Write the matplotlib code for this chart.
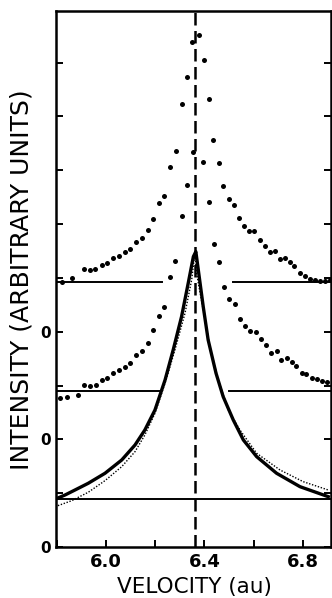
import matplotlib
matplotlib.use("Agg")
import matplotlib.pyplot as plt
import numpy as np

# ---------------- data ----------------
# upper data set (offset zero at y = 4)
top_v = [5.820, 5.861, 5.912, 5.935, 5.955, 5.983, 6.005, 6.030, 6.053, 6.077,
         6.099, 6.121, 6.145, 6.169, 6.191, 6.214, 6.237, 6.261, 6.283, 6.307,
         6.330, 6.350, 6.379, 6.398, 6.419, 6.435, 6.458, 6.476, 6.499, 6.521,
         6.541, 6.562, 6.582, 6.602, 6.625, 6.646, 6.666, 6.686, 6.707, 6.727,
         6.747, 6.765, 6.788, 6.808, 6.828, 6.849, 6.869, 6.889, 6.910]
top_i = [4.931, 5.006, 5.162, 5.149, 5.173, 5.242, 5.284, 5.366, 5.409, 5.478,
         5.539, 5.675, 5.749, 5.892, 6.097, 6.388, 6.530, 7.069, 7.355, 8.234,
         8.742, 9.377, 9.517, 9.058, 8.331, 7.556, 7.132, 6.710, 6.474, 6.357,
         6.110, 5.967, 5.879, 5.874, 5.706, 5.595, 5.489, 5.496, 5.348, 5.377,
         5.292, 5.223, 5.087, 5.043, 4.987, 4.963, 4.950, 4.950, 4.963]

# middle data set (offset zero at y = 2)
mid_v = [5.813, 5.840, 5.885, 5.912, 5.935, 5.958, 5.983, 6.005, 6.030, 6.053,
         6.077, 6.099, 6.121, 6.145, 6.169, 6.191, 6.214, 6.237, 6.261, 6.282,
         6.307, 6.328, 6.353, 6.395, 6.419, 6.440, 6.459, 6.480, 6.501, 6.524,
         6.544, 6.564, 6.585, 6.609, 6.629, 6.650, 6.670, 6.693, 6.709, 6.734,
         6.754, 6.772, 6.795, 6.812, 6.835, 6.856, 6.876, 6.896]
mid_i = [2.764, 2.794, 2.825, 3.011, 2.998, 3.011, 3.104, 3.147, 3.240, 3.290,
         3.351, 3.426, 3.569, 3.649, 3.786, 4.033, 4.299, 4.467, 5.019, 5.316,
         6.152, 6.729, 7.348, 7.162, 6.418, 5.628, 5.294, 4.833, 4.613, 4.511,
         4.232, 4.108, 4.015, 4.002, 3.861, 3.755, 3.611, 3.643, 3.476, 3.507,
         3.444, 3.370, 3.229, 3.210, 3.147, 3.117, 3.086, 3.072]

# lower panel: solid theory curve
sol_v = [5.793, 5.834, 5.874, 5.928, 5.996, 6.064, 6.118, 6.158, 6.199, 6.240,
         6.273, 6.307, 6.334, 6.355, 6.365, 6.395, 6.415, 6.447, 6.476, 6.517,
         6.558, 6.612, 6.693, 6.788, 6.903]
sol_i = [0.887, 0.967, 1.059, 1.184, 1.370, 1.617, 1.896, 2.175, 2.546, 3.104,
         3.662, 4.281, 4.901, 5.396, 5.489, 4.467, 3.848, 3.229, 2.794, 2.361,
         1.989, 1.679, 1.370, 1.121, 0.935]

# lower panel: dotted curve
dot_v = [5.793, 5.861, 5.928, 5.996, 6.064, 6.118, 6.158, 6.199, 6.240, 6.280,
         6.321, 6.348, 6.361, 6.368, 6.395, 6.422, 6.456, 6.497, 6.544, 6.612,
         6.707, 6.801, 6.903]
dot_i = [0.749, 0.861, 1.017, 1.233, 1.493, 1.772, 2.082, 2.485, 3.043, 3.662,
         4.344, 4.963, 5.459, 5.087, 4.405, 3.723, 3.104, 2.546, 2.175, 1.742,
         1.431, 1.214, 1.059]

# horizontal background lines: level, and gap (start, end) or None
base_levels = [0.89, 2.89, 4.93]
base_gaps = [None, (6.214, 6.501), (6.226, 6.515)]

peak_v = 6.36
x_ticks = [5.8, 6.0, 6.2, 6.4, 6.6, 6.8]
x_labels = ["", "6.0", "", "6.4", "", "6.8"]
y_ticks = list(range(0, 10))
y_labels = ["0", "", "0", "", "0", "", "", "", "", ""]
xlim = (5.797, 6.914)
ylim = (0, 9.96)

# ---------------- figure ----------------
fig = plt.figure(figsize=(3.32, 5.98), dpi=100)
ax = fig.add_axes([56 / 332, 51 / 598, 275 / 332, 536 / 598])
ax.set_xlim(*xlim)
ax.set_ylim(*ylim)

ink = "black"
for lev, gap in zip(base_levels, base_gaps):
    if gap is None:
        ax.plot(xlim, [lev, lev], color=ink, lw=1.4, solid_capstyle="butt")
    else:
        ax.plot([xlim[0], gap[0]], [lev, lev], color=ink, lw=1.4)
        ax.plot([gap[1], xlim[1]], [lev, lev], color=ink, lw=1.4)

ax.axvline(peak_v, color=ink, lw=1.8, dashes=(5, 2.2))

ax.plot(dot_v, dot_i, color=ink, lw=1.0, ls=(0, (1, 1.2)))
ax.plot(sol_v, sol_i, color=ink, lw=2.4, solid_joinstyle="round")

ax.plot(top_v, top_i, ls="none", marker="o", ms=3.6, mfc=ink, mec=ink, mew=0)
ax.plot(mid_v, mid_i, ls="none", marker="o", ms=3.6, mfc=ink, mec=ink, mew=0)

for s in ["left", "right", "bottom", "top"]:
    ax.spines[s].set_linewidth(1.8)

ax.set_xticks(x_ticks)
ax.set_xticklabels(x_labels, fontsize=13, fontweight="bold")
ax.set_yticks(y_ticks)
ax.set_yticklabels(y_labels, fontsize=11, fontweight="bold")
ax.tick_params(axis="x", direction="in", length=5, width=1.4, pad=4, top=False)
ax.tick_params(axis="y", direction="in", length=5, width=1.4, pad=4, right=True)

fig.text(194 / 332, 1 - 587 / 598, "VELOCITY (au)", fontsize=15.5,
         ha="center", va="center")
fig.text(22 / 332, 1 - 280 / 598, "INTENSITY (ARBITRARY UNITS)", fontsize=18,
         rotation=90, ha="center", va="center")

fig.savefig("out.png", dpi=100)
